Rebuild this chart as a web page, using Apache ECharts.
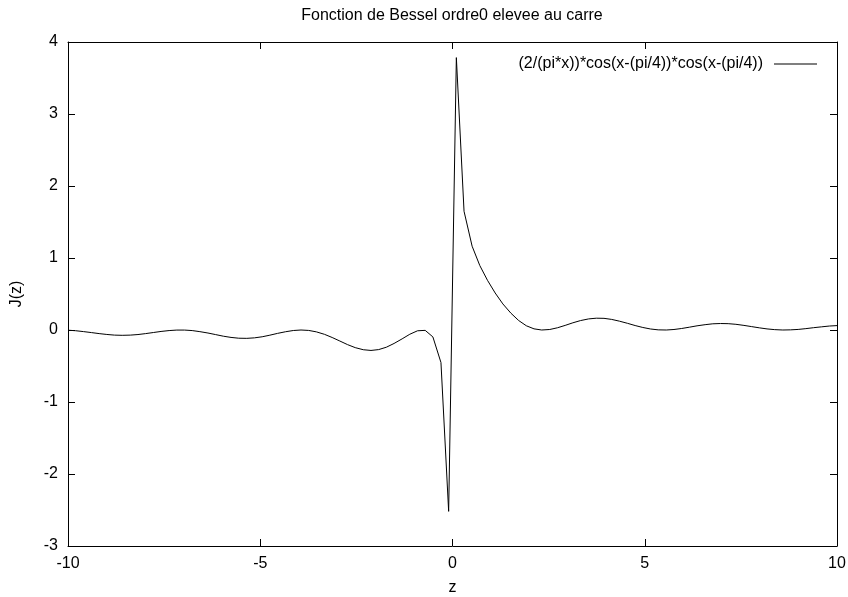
<!DOCTYPE html>
<html>
<head>
<meta charset="utf-8">
<script src="https://cdn.jsdelivr.net/npm/echarts@6/dist/echarts.min.js"></script>
<style>
  html, body { margin: 0; padding: 0; background: #fff; }
  #main { width: 848px; height: 597px; }
</style>
</head>
<body>
<div id="main"></div>
<script>
const titleText = 'Fonction de Bessel ordre0 elevee au carre';
const seriesName = '(2/(pi*x))*cos(x-(pi/4))*cos(x-(pi/4))';

const zValues = [
  -10.00, -9.80, -9.60, -9.39, -9.19, -8.99, -8.79, -8.59, -8.38, -8.18,
  -7.98, -7.78, -7.58, -7.37, -7.17, -6.97, -6.77, -6.57, -6.36, -6.16,
  -5.96, -5.76, -5.56, -5.35, -5.15, -4.95, -4.75, -4.55, -4.34, -4.14,
  -3.94, -3.74, -3.54, -3.33, -3.13, -2.93, -2.73, -2.53, -2.32, -2.12,
  -1.92, -1.72, -1.52, -1.31, -1.11, -0.91, -0.71, -0.51, -0.30, -0.10,
  0.10, 0.30, 0.51, 0.71, 0.91, 1.11, 1.31, 1.52, 1.72, 1.92,
  2.12, 2.32, 2.53, 2.73, 2.93, 3.13, 3.33, 3.54, 3.74, 3.94,
  4.14, 4.34, 4.55, 4.75, 4.95, 5.15, 5.35, 5.56, 5.76, 5.96,
  6.16, 6.36, 6.57, 6.77, 6.97, 7.17, 7.37, 7.58, 7.78, 7.98,
  8.18, 8.38, 8.59, 8.79, 8.99, 9.19, 9.39, 9.60, 9.80, 10.00
];

const jValues = [
  -0.003, -0.010, -0.022, -0.036, -0.050, -0.062, -0.071, -0.074, -0.071, -0.063,
  -0.050, -0.035, -0.020, -0.008, -0.001, -0.001, -0.008, -0.023, -0.042, -0.064,
  -0.086, -0.103, -0.114, -0.116, -0.109, -0.094, -0.072, -0.047, -0.024, -0.007,
  0.000, -0.006, -0.026, -0.060, -0.104, -0.153, -0.203, -0.245, -0.274, -0.284,
  -0.272, -0.239, -0.187, -0.123, -0.059, -0.011, -0.005, -0.096, -0.452, -2.519,
  3.783, 1.649, 1.164, 0.895, 0.690, 0.514, 0.362, 0.233, 0.132, 0.059,
  0.016, 0.000, 0.007, 0.031, 0.064, 0.100, 0.131, 0.154, 0.164, 0.162,
  0.147, 0.123, 0.093, 0.062, 0.035, 0.014, 0.002, 0.000, 0.007, 0.021,
  0.039, 0.058, 0.074, 0.086, 0.090, 0.088, 0.079, 0.064, 0.047, 0.030,
  0.015, 0.005, 0.000, 0.002, 0.008, 0.019, 0.032, 0.044, 0.055, 0.061
];

const xRange = [-10, 10];
const xStep = 5;
const yRange = [-3, 4];
const yStep = 1;

const font = 'Liberation Sans, Arial, sans-serif';
const fontSize = 16;

// frame axis (bottom/left carry labels, top/right only mirror ticks)
function frameAxis(pos, range, step, showLabel) {
  return {
    type: 'value',
    position: pos,
    min: range[0],
    max: range[1],
    interval: step,
    splitLine: { show: false },
    axisLine: { show: true, onZero: false, lineStyle: { color: '#000', width: 1 } },
    axisTick: { show: true, inside: true, length: 7, lineStyle: { color: '#000' } },
    axisLabel: {
      show: showLabel,
      color: '#000',
      fontFamily: font,
      fontSize: fontSize,
      margin: 10
    }
  };
}

const pairs = zValues.map((z, i) => [z, jValues[i]]);

const chart = echarts.init(document.getElementById('main'), null, { renderer: 'canvas' });

const xBottom = frameAxis('bottom', xRange, xStep, true);
xBottom.name = 'z';
xBottom.nameLocation = 'middle';
xBottom.nameGap = 34;
xBottom.nameTextStyle = { color: '#000', fontFamily: font, fontSize: fontSize };

const yLeft = frameAxis('left', yRange, yStep, true);
yLeft.name = 'J(z)';
yLeft.nameLocation = 'middle';
yLeft.nameGap = 43;
yLeft.nameTextStyle = { color: '#000', fontFamily: font, fontSize: fontSize };

chart.setOption({
  animation: false,
  backgroundColor: '#fff',
  // title centred over the plot area, like gnuplot does
  graphic: [{
    type: 'text',
    x: 452,
    y: 16,
    style: {
      text: titleText,
      fill: '#000',
      font: fontSize + 'px ' + font,
      textAlign: 'center',
      textVerticalAlign: 'middle'
    }
  }],
  legend: {
    right: 26,
    top: 51,
    align: 'right',
    itemWidth: 43,
    itemHeight: 10,
    itemGap: 0,
    textStyle: { color: '#000', fontFamily: font, fontSize: fontSize, padding: [0, 6, 0, 0] },
    data: [{ name: seriesName, icon: 'path://M0,5 L43,5 L43,6 L0,6 Z' }]
  },
  grid: { left: 68, right: 11, top: 42, bottom: 51, outerBoundsMode: 'none' },
  xAxis: [xBottom, frameAxis('top', xRange, xStep, false)],
  yAxis: [yLeft, frameAxis('right', yRange, yStep, false)],
  series: [{
    name: seriesName,
    type: 'line',
    data: pairs,
    symbol: 'none',
    lineStyle: { color: '#000', width: 1 },
    itemStyle: { color: '#000' }
  }]
});
</script>
</body>
</html>
